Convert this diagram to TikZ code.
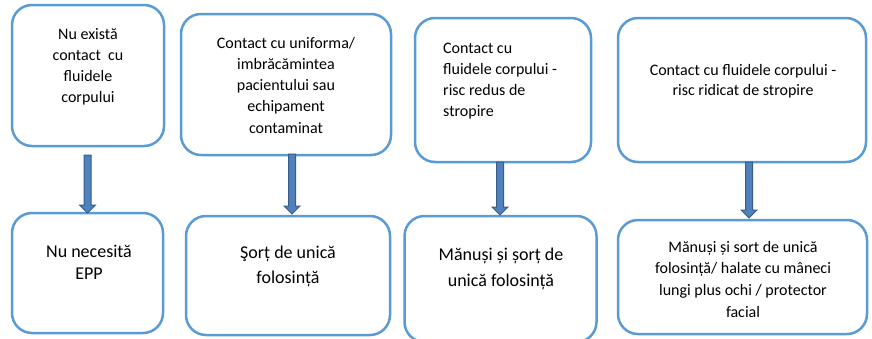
\documentclass[tikz,border=0pt]{standalone}
\usepackage{fontspec}
\setmainfont{Carlito}
\usetikzlibrary{calc}
\definecolor{boxblue}{RGB}{91,155,213}
\definecolor{arrfill}{RGB}{79,129,189}
\definecolor{arrdark}{RGB}{56,93,138}
\tikzset{
  ebox/.style={draw=boxblue, line width=2.5pt, rounded corners=20pt, fill=white, inner sep=0pt},
  toptext/.style={inner sep=0pt, anchor=base, font=\fontsize{16}{21.3}\selectfont},
  bigtext/.style={inner sep=0pt, anchor=base, font=\fontsize{18}{22}\selectfont},
  arrowsty/.style={fill=arrfill, draw=arrdark, line width=1pt, line join=miter},
}
\newcommand\blockarrow[2]{%
  \filldraw[arrowsty] ($(#1)+(-3.5,0)$) -- ($(#2)+(-3.5,-8)$) -- ($(#2)+(-8,-8)$) -- (#2)
    -- ($(#2)+(8,-8)$) -- ($(#2)+(3.5,-8)$) -- ($(#1)+(3.5,0)$) -- cycle;}
\begin{document}
\begin{tikzpicture}[x=1pt,y=-1pt]
\useasboundingbox (0,0) rectangle (872,338);
\fill[white] (0,0) rectangle (872,338);
\clip (0,0) rectangle (872,338);
% top boxes
\node[ebox, minimum width=152pt, minimum height=141pt] (b1) at (88,75.5) {};
\node[ebox, minimum width=210pt, minimum height=141pt] (b2) at (286,84.5) {};
\node[ebox, minimum width=176pt, minimum height=144pt] (b3) at (503,90) {};
\node[ebox, minimum width=248pt, minimum height=144pt] (b4) at (742,90) {};
% bottom boxes
\node[ebox, minimum width=151pt, minimum height=120pt] (b5) at (87.5,273) {};
\node[ebox, minimum width=204pt, minimum height=119pt] (b6) at (288,275.5) {};
\node[ebox, minimum width=192pt, minimum height=126pt] (b7) at (500.5,279) {};
\node[ebox, minimum width=249pt, minimum height=114pt] (b8) at (742.5,277) {};
% texts
\node[toptext] (t1) at (88,39) {\parbox[t]{150pt}{\centering Nu există\\contact\ \ cu\\fluidele\\corpului}};
\node[toptext] (t2) at (286,48) {\parbox[t]{200pt}{\centering Contact cu uniforma/\\imbrăcămintea\\pacientului sau\\echipament\\contaminat}};
\node[toptext, anchor=base west] (t3) at (443,53) {\parbox[t]{150pt}{\raggedright Contact cu\\fluidele corpului -\\risc redus de\\stropire}};
\node[toptext, font=\fontsize{16}{20.5}\selectfont] (t4) at (743,75) {\parbox[t]{240pt}{\centering Contact cu fluidele corpului -\\risc ridicat de stropire}};
\node[bigtext] (t5) at (89,257) {\parbox[t]{150pt}{\centering Nu necesită\\EPP}};
\node[bigtext, font=\fontsize{18}{25}\selectfont] (t6) at (288,258) {\parbox[t]{200pt}{\centering Şorț de unică\\folosință}};
\node[bigtext, font=\fontsize{18}{26}\selectfont] (t7) at (501,260) {\parbox[t]{190pt}{\centering Mănuși și șorț de\\unică folosință}};
\node[toptext, font=\fontsize{16}{21.7}\selectfont] (t8) at (743,252) {\parbox[t]{245pt}{\centering Mănuși și sort de unică\\folosință/ halate cu mâneci\\lungi plus ochi / protector\\facial}};
% arrows
\coordinate (a1s) at (87.5,155); \coordinate (a1e) at (87.5,213);
\coordinate (a2s) at (292,154); \coordinate (a2e) at (292,214);
\coordinate (a3s) at (500,162); \coordinate (a3e) at (500,215);
\coordinate (a4s) at (749,162); \coordinate (a4e) at (749,218);
\blockarrow{a1s}{a1e}
\blockarrow{a2s}{a2e}
\blockarrow{a3s}{a3e}
\blockarrow{a4s}{a4e}
\end{tikzpicture}
\end{document}
